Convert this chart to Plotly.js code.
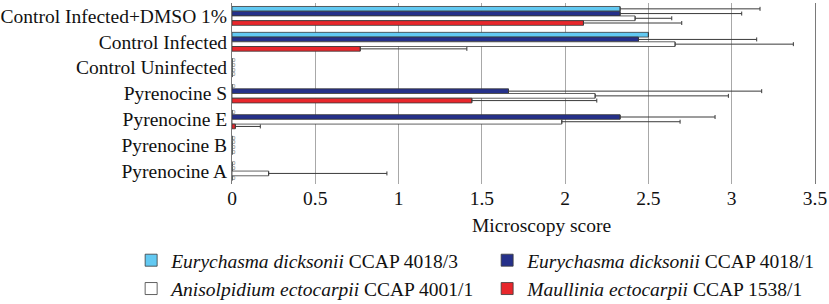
<!DOCTYPE html>
<html>
<head>
<meta charset="utf-8">
<script src="https://cdn.plot.ly/plotly-3.0.1.min.js"></script>
<style>html,body{margin:0;padding:0;background:#fff}#chart{width:829px;height:304px}</style>
</head>
<body>
<div id="chart"></div>
<script>
var categories = ['Control Infected+DMSO 1%', 'Control Infected', 'Control Uninfected', 'Pyrenocine S', 'Pyrenocine E', 'Pyrenocine B', 'Pyrenocine A'];

var seriesNames = [
  '<i>Eurychasma dicksonii</i> CCAP 4018/3',
  '<i>Eurychasma dicksonii</i> CCAP 4018/1',
  '<i>Anisolpidium ectocarpii</i> CCAP 4001/1',
  '<i>Maullinia ectocarpii</i> CCAP 1538/1'
];

var edicksonii3 = [2.33, 2.50, 0, 0, 0, 0, 0];
var edicksonii3Err = [0.84, null, null, null, null, null, null];

var edicksonii1 = [2.33, 2.44, 0, 1.66, 2.33, 0, 0];
var edicksonii1Err = [0.73, 0.71, null, 1.52, 0.57, null, null];

var aectocarpii = [2.42, 2.66, 0, 2.18, 1.98, 0, 0.22];
var aectocarpiiErr = [0.22, 0.71, null, 0.80, 0.71, null, 0.71];

var mectocarpii = [2.11, 0.77, 0, 1.44, 0.02, 0, 0];
var mectocarpiiErr = [0.59, 0.64, null, 0.75, 0.15, null, null];

var xTicks = [0, 0.5, 1, 1.5, 2, 2.5, 3, 3.5];

var SERIF = '"Liberation Serif", "Times New Roman", "DejaVu Serif", serif';
var colors = ['#62C9F2', '#25308A', '#FFFFFF', '#E8272C'];
var values = [edicksonii3, edicksonii1, aectocarpii, mectocarpii];
var errs = [edicksonii3Err, edicksonii1Err, aectocarpiiErr, mectocarpiiErr];

var traces = values.map(function (vals, i) {
  return {
    type: 'bar',
    orientation: 'h',
    name: seriesNames[i],
    y: categories,
    x: vals,
    hoverinfo: 'x+name',
    marker: {color: colors[i], line: {color: '#3a3a3a', width: 0.8}},
    error_x: {
      type: 'data',
      symmetric: false,
      array: errs[i],
      arrayminus: errs[i].map(function (e) { return e === null ? null : 0; }),
      visible: true, color: '#3a3a3a', thickness: 1, width: 2
    }
  };
});

// tiny "0" value labels for zero-valued bars, grouped like the bars
values.forEach(function (vals, i) {
  traces.push({
    type: 'scatter',
    orientation: 'h',
    mode: 'text',
    showlegend: false,
    hoverinfo: 'skip',
    y: categories,
    x: vals.map(function (v) { return v === 0 ? v : null; }),
    text: vals.map(function (v) { return v === 0 ? '0' : ''; }),
    textposition: 'middle right',
    textfont: {size: 6, color: '#777', family: '"Liberation Sans", Arial, sans-serif'},
    cliponaxis: false
  });
});

var layout = {
  width: 829,
  height: 304,
  margin: {l: 232, r: 14, t: 3, b: 120, autoexpand: false},
  paper_bgcolor: '#fff',
  plot_bgcolor: '#fff',
  font: {family: SERIF, size: 19.5, color: '#111'},
  barmode: 'group',
  bargap: 0.27,
  bargroupgap: 0,
  scattermode: 'group',
  scattergap: 0.27,
  showlegend: true,
  xaxis: {
    range: [0, 3.5],
    tickvals: xTicks,
    ticktext: xTicks.map(String),
    showgrid: true,
    gridcolor: '#a8a8a8',
    gridwidth: 1,
    zeroline: false,
    showline: false,
    ticks: '',
    tickfont: {size: 19.5, family: SERIF},
    fixedrange: true
  },
  yaxis: {
    type: 'category',
    categoryorder: 'array',
    categoryarray: categories,
    autorange: 'reversed',
    showgrid: false,
    zeroline: false,
    showline: true,
    mirror: true,
    linecolor: '#7a7a7a',
    linewidth: 1,
    ticks: '',
    tickfont: {size: 19.5, family: SERIF},
    fixedrange: true
  },
  legend: {
    orientation: 'h',
    x: -0.173,
    xanchor: 'left',
    y: -0.315,
    yanchor: 'top',
    entrywidth: 311,
    entrywidthmode: 'pixels',
    itemwidth: 30,
    font: {size: 19.5, family: SERIF},
    traceorder: 'normal',
    bgcolor: 'rgba(0,0,0,0)'
  },
  annotations: [{
    text: 'Microscopy score',
    xref: 'paper', yref: 'paper',
    x: 0.531, y: -0.227,
    xanchor: 'center', yanchor: 'middle',
    showarrow: false,
    font: {size: 19.5, family: SERIF}
  }]
};

Plotly.newPlot('chart', traces, layout, {staticPlot: true, displayModeBar: false});
</script>
</body>
</html>
